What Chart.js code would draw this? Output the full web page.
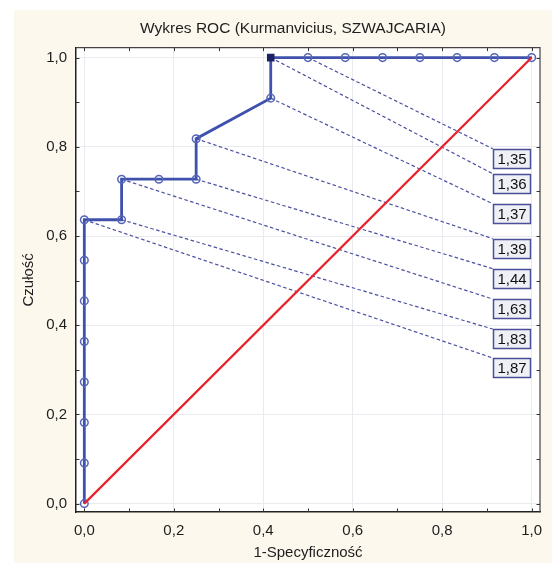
<!DOCTYPE html>
<html>
<head>
<meta charset="utf-8">
<script src="https://cdn.jsdelivr.net/npm/chart.js@4/dist/chart.umd.min.js"></script>
<style>
  html, body { margin: 0; padding: 0; background: #ffffff; }
  canvas { display: block; }
</style>
</head>
<body>
<canvas id="c" width="552" height="563"></canvas>
<script>
// ---- data ----
const fpr = [0, 0, 0, 0, 0, 0, 0, 0, 0.0833, 0.0833, 0.1667, 0.25, 0.25, 0.4167, 0.4167, 0.5, 0.5833, 0.6667, 0.75, 0.8333, 0.9167, 1.0];
const tpr = [0, 0.0909, 0.1818, 0.2727, 0.3636, 0.4545, 0.5455, 0.6364, 0.6364, 0.7273, 0.7273, 0.7273, 0.8182, 0.9091, 1, 1, 1, 1, 1, 1, 1, 1];
const optimalIndex = 14;
const cutoffs = [1.35, 1.36, 1.37, 1.39, 1.44, 1.63, 1.83, 1.87];
const cutoffPointIndex = [15, 14, 13, 12, 11, 9, 8, 7];
const labelX = 0.913;
const labelY = [0.7956, 0.7396, 0.6724, 0.594, 0.5268, 0.4586, 0.3914, 0.3265];
const diagX = [0, 1];
const diagY = [0, 1];
const xTicks = [0, 0.2, 0.4, 0.6, 0.8, 1.0];
const yTicks = [0, 0.2, 0.4, 0.6, 0.8, 1.0];
const minorTicks = [0, 0.1, 0.2, 0.3, 0.4, 0.5, 0.6, 0.7, 0.8, 0.9, 1.0];

const fmt = v => v.toFixed(1).replace('.', ',');
const fmt2 = v => v.toFixed(2).replace('.', ',');

Chart.defaults.font.family = "'Liberation Sans', Arial, sans-serif";
Chart.defaults.font.size = 15;
Chart.defaults.color = '#1e1e1e';

const ROC_COLOR = '#3f51ad';
const DASH_COLOR = '#4a50a0';

const rocData = fpr.map((x, i) => ({x, y: tpr[i]}));
const datasets = [
  {
    label: 'diag',
    data: diagX.map((x, i) => ({x, y: diagY[i]})),
    showLine: true, borderColor: '#e8212b', borderWidth: 2.2,
    pointRadius: 0, order: 0
  },
  {
    label: 'ROC',
    data: rocData,
    showLine: true, borderColor: ROC_COLOR, borderWidth: 2.8,
    pointRadius: fpr.map((_, i) => i === optimalIndex ? 4.3 : 3.8),
    pointStyle: fpr.map((_, i) => i === optimalIndex ? 'rect' : 'circle'),
    pointBackgroundColor: fpr.map((_, i) => i === optimalIndex ? '#1c2266' : 'rgba(0,0,0,0)'),
    pointBorderColor: fpr.map((_, i) => i === optimalIndex ? '#1c2266' : '#5565b8'),
    pointBorderWidth: 1.5,
    order: 1
  }
];
cutoffs.forEach((c, k) => {
  const p = cutoffPointIndex[k];
  datasets.push({
    label: 'cut' + k,
    data: [{x: fpr[p], y: tpr[p]}, {x: labelX, y: labelY[k]}],
    showLine: true, borderColor: DASH_COLOR, borderWidth: 1.2,
    borderDash: [3.5, 2.5], pointRadius: 0, order: 2
  });
});

const panelPlugin = {
  id: 'panel',
  beforeDraw(chart) {
    const {ctx, chartArea: a} = chart;
    ctx.save();
    ctx.fillStyle = '#ffffff';
    ctx.fillRect(0, 0, chart.width, chart.height);
    ctx.fillStyle = '#fcf8ee';
    ctx.fillRect(14, 10, chart.width - 14, chart.height - 10);
    ctx.fillStyle = '#ffffff';
    ctx.fillRect(a.left, a.top, a.right - a.left, a.bottom - a.top);
    ctx.restore();
  }
};

const framePlugin = {
  id: 'frame',
  afterDraw(chart) {
    const {ctx, chartArea: a, scales} = chart;
    ctx.save();
    ctx.strokeStyle = '#444';
    ctx.lineWidth = 1.2;
    ctx.beginPath();
    ctx.moveTo(a.left, a.top); ctx.lineTo(a.right, a.top); ctx.lineTo(a.right, a.bottom);
    ctx.stroke();
    ctx.strokeStyle = '#333';
    ctx.lineWidth = 1;
    const L = 3.5;
    ctx.beginPath();
    minorTicks.forEach(v => {
      const px = Math.round(scales.x.getPixelForValue(v)) + 0.5;
      ctx.moveTo(px, a.bottom); ctx.lineTo(px, a.bottom - L);
      ctx.moveTo(px, a.top); ctx.lineTo(px, a.top + L);
      const py = Math.round(scales.y.getPixelForValue(v)) + 0.5;
      ctx.moveTo(a.left, py); ctx.lineTo(a.left + L, py);
      ctx.moveTo(a.right, py); ctx.lineTo(a.right - L, py);
    });
    ctx.stroke();
    ctx.restore();
  }
};

const labelPlugin = {
  id: 'cutLabels',
  afterDatasetsDraw(chart) {
    const {ctx, scales} = chart;
    ctx.save();
    ctx.font = "15px 'Liberation Sans', Arial, sans-serif";
    ctx.textAlign = 'center';
    ctx.textBaseline = 'middle';
    cutoffs.forEach((c, k) => {
      const x = Math.round(scales.x.getPixelForValue(labelX)) + 0.5;
      const y = Math.round(scales.y.getPixelForValue(labelY[k])) + 0.5;
      const w = 37, h = 19;
      ctx.fillStyle = '#eef0f6';
      ctx.fillRect(x, y, w, h);
      ctx.strokeStyle = '#4a4f98';
      ctx.lineWidth = 1.5;
      ctx.strokeRect(x, y, w, h);
      ctx.fillStyle = '#111';
      ctx.fillText(fmt2(c), x + w / 2, y + h / 2 + 1);
    });
    ctx.restore();
  }
};

new Chart(document.getElementById('c'), {
  type: 'scatter',
  data: { datasets },
  options: {
    responsive: false,
    animation: false,
    layout: { padding: { left: 34, right: 0, top: 0, bottom: 0 } },
    plugins: {
      legend: { display: false },
      tooltip: { enabled: false },
      title: {
        display: true,
        text: 'Wykres ROC (Kurmanvicius, SZWAJCARIA)',
        font: { size: 15.5, weight: 'normal' },
        color: '#1e1e1e',
        padding: { top: 19, bottom: 10 }
      }
    },
    scales: {
      x: {
        type: 'linear', position: 'bottom',
        min: -0.0186, max: 1.0186,
        afterBuildTicks: s => { s.ticks = xTicks.map(v => ({value: v})); },
        afterFit: s => { s.height = 51; s.paddingLeft = 0; s.paddingRight = 12; },
        ticks: { callback: v => fmt(v), padding: 10, color: '#1e1e1e', font: { size: 15 } },
        grid: { color: '#eaebf0', lineWidth: 1, drawTicks: false },
        border: { display: true, color: '#222', width: 1.5 },
        title: { display: true, text: '1-Specyficzność', color: '#1e1e1e', font: { size: 15 }, padding: { top: 0, bottom: 1 } }
      },
      y: {
        type: 'linear', position: 'left',
        min: -0.0188, max: 1.0224,
        afterBuildTicks: s => { s.ticks = yTicks.map(v => ({value: v})); },
        afterFit: s => { s.width = 42; s.paddingTop = 0; s.paddingBottom = 0; },
        ticks: { callback: v => fmt(v), padding: 9, color: '#1e1e1e', font: { size: 15 } },
        grid: { color: '#eaebf0', lineWidth: 1, drawTicks: false },
        border: { display: true, color: '#222', width: 1.5 },
        title: { display: true, text: 'Czułość', color: '#1e1e1e', font: { size: 15 }, padding: { top: -14, bottom: 0 } }
      }
    }
  },
  plugins: [panelPlugin, labelPlugin, framePlugin]
});
</script>
</body>
</html>
